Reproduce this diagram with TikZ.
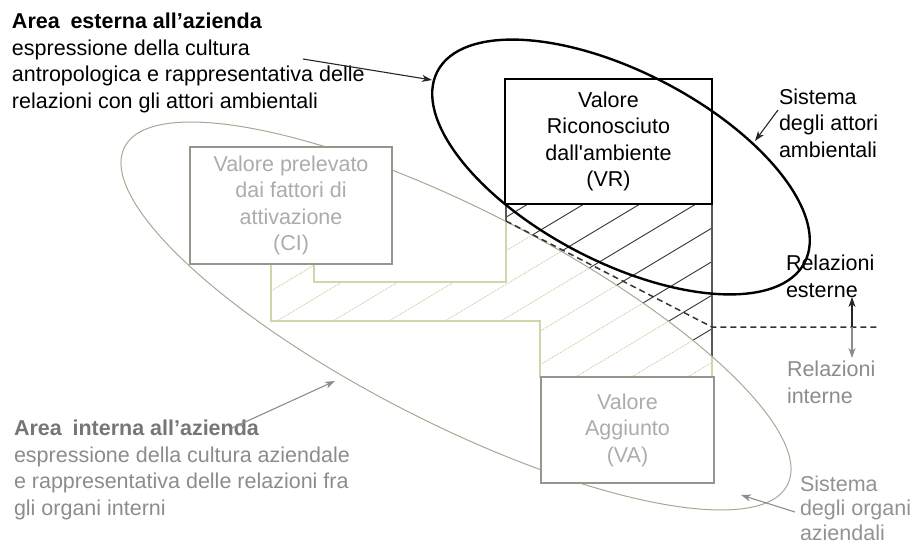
\documentclass[tikz,border=0pt]{standalone}
\usepackage{fontspec}
\setmainfont{Liberation Sans}[Ligatures=TeXOff]
\usetikzlibrary{arrows.meta}
\definecolor{pale}{RGB}{212,212,172}
\definecolor{ellgray}{RGB}{168,168,148}
\definecolor{boxgray}{RGB}{150,150,140}
\definecolor{txtlight}{RGB}{172,172,172}
\definecolor{txtmid}{RGB}{140,140,140}
\definecolor{txtdark}{RGB}{118,118,118}
\def\polypath{(271,264) -- (314,264) -- (314,282) -- (506,282) -- (506,204) -- (712,204) -- (712,377) -- (540,377) -- (540,321) -- (271,321) -- cycle}
\begin{document}
\begin{tikzpicture}[x=1pt,y=-1pt,
  every node/.style={inner sep=0pt, outer sep=0pt, font=\fontsize{21.5}{26.5}\selectfont},
  lbl/.style={align=left, anchor=base west},
  vrbox/.style={draw=black, line width=2.2pt, fill=white, align=center},
  graybox/.style={draw=boxgray, line width=2.6pt, fill=white, align=center, text=txtlight},
  hatchblack/.style={draw=black!80, line width=0.9pt},
  hatchpale/.style={draw=pale, line width=0.8pt, dash pattern=on 2pt off 1pt},
  grayell/.style={draw=ellgray, line width=1pt},
  blackell/.style={draw=black, line width=2.4pt},
  relline/.style={draw=black!80, line width=1.5pt, dash pattern=on 6pt off 4pt},
  arr/.style={line width=1.1pt, -{Stealth[length=10pt,width=7pt,inset=3pt]}},
  blackarr/.style={arr, draw=black!85},
  grayarr/.style={arr, draw=txtmid}
]
\useasboundingbox (0,0) rectangle (915,546);

% hatched stepped region
\begin{scope}
  \clip \polypath;
  \foreach \k in {-7,...,10} {
    \draw[hatchblack] ({528+56*\k-400},444) -- ({528+56*\k+100},144);
  }
  \clip[shift={(456,316)}, rotate=-27] (0,0) ellipse [x radius=372pt, y radius=107pt];
  \fill[white] (200,150) rectangle (800,450);
  \foreach \k in {-7,...,10} {
    \draw[hatchpale] ({528+56*\k-400},444) -- ({528+56*\k+100},144);
  }
\end{scope}
\draw[black!65, line width=1.2pt] \polypath;
\begin{scope}
  \clip[shift={(456,316)}, rotate=-27] (0,0) ellipse [x radius=372pt, y radius=107pt];
  \draw[white, line width=2.2pt] \polypath;
  \draw[pale, line width=1.1pt] \polypath;
\end{scope}

% system of internal organs (gray ellipse)
\draw[grayell, shift={(456,316)}, rotate=-27] (0,0) ellipse [x radius=372pt, y radius=107pt];

% boxes
\node[graybox, minimum width=202pt, minimum height=117pt] (ci) at (291,205.5)
  {Valore prelevato\\dai fattori di\\attivazione\\(CI)};
\node[graybox, minimum width=173pt, minimum height=106pt] (va) at (627.5,430)
  {Valore\\Aggiunto\\(VA)};
\node[vrbox, minimum width=207pt, minimum height=125pt] (vr) at (608.5,141.5)
  {Valore\\Riconosciuto\\dall'ambiente\\(VR)};

% system of environmental actors (black ellipse)
\draw[blackell, shift={(621,167)}, rotate=-27.5] (0,0) ellipse [x radius=207pt, y radius=95pt];

% boundary between external and internal relations
\coordinate (d0) at (506,221);
\coordinate (d1) at (712,327);
\coordinate (d2) at (880,327);
\draw[relline] (d0) -- (d1) -- (d2);

% texts (anchor = baseline of the last line)
\node[lbl] (ext) at (12,108)
  {\textbf{Area\hspace{0.5em}esterna all’azienda}\\espressione della cultura\\antropologica e rappresentativa delle\\relazioni con gli attori ambientali};
\node[lbl, text=txtmid] (int) at (14,515)
  {{\bfseries\color{txtdark}Area\hspace{0.5em}interna all’azienda}\\espressione della cultura aziendale\\e rappresentativa delle relazioni fra\\gli organi interni};
\node[lbl] (att) at (779,157) {Sistema\\degli attori\\ambientali};
\node[lbl] (relest) at (786,297) {Relazioni\\esterne};
\node[lbl, text=txtmid] (relint) at (787,403) {Relazioni\\interne};
\node[lbl, text=txtlight!85!black, font=\fontsize{21.5}{24.5}\selectfont] (org) at (800,540) {Sistema\\degli organi\\aziendali};

% arrows
\coordinate (a1s) at (303,59);
\coordinate (a1e) at (432,80);
\draw[blackarr] (a1s) -- (a1e);
\coordinate (a2s) at (778,110);
\coordinate (a2e) at (755,141);
\draw[blackarr] (a2s) -- (a2e);
\coordinate (rel) at (852,327);
\coordinate (relup) at (852,297);
\coordinate (reldown) at (852,358);
\draw[blackarr] (rel) -- (relup);
\draw[grayarr] (rel) -- (reldown);
\coordinate (a4s) at (232,428);
\coordinate (a4e) at (335,381);
\draw[grayarr] (a4s) -- (a4e);
\coordinate (a5s) at (795,512);
\coordinate (a5e) at (741,495);
\draw[grayarr] (a5s) -- (a5e);
\end{tikzpicture}
\end{document}
